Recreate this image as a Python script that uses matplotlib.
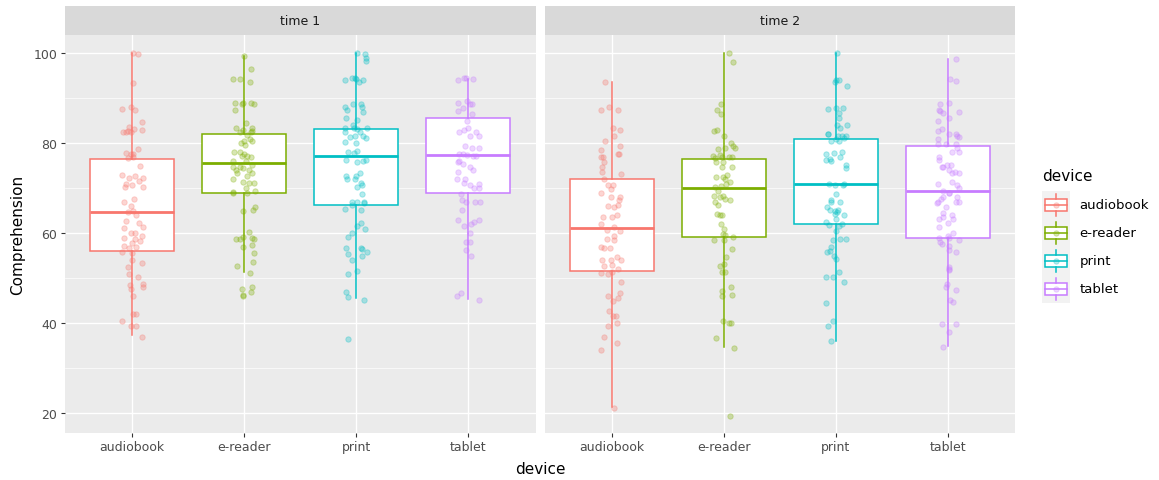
import numpy as np
import matplotlib.pyplot as plt
from matplotlib.patches import Rectangle

devices = ['audiobook', 'e-reader', 'print', 'tablet']
times = ['time 1', 'time 2']
colores = ['#F8766D', '#7CAE00', '#00BFC4', '#C77CFF']

# box stats (q1, mediana, q3, bigote bajo, bigote alto)
t1_q1 = [56.0, 69.0, 66.2, 69.0]
t1_med = [64.7, 75.5, 77.2, 77.4]
t1_q3 = [76.4, 82.1, 83.2, 85.6]
t1_lo = [37.3, 51.3, 45.6, 45.3]
t1_hi = [100.0, 99.3, 100.0, 94.3]

t2_q1 = [51.6, 59.2, 61.9, 58.9]
t2_med = [61.1, 70.1, 71.0, 69.3]
t2_q3 = [72.1, 76.4, 81.0, 79.4]
t2_lo = [21.3, 34.6, 36.1, 34.8]
t2_hi = [93.6, 100.0, 100.0, 98.7]

# jittered points: comprehension value and horizontal jitter (category units)
t1_audiobook_y = [100.0, 99.7, 93.3, 87.6, 88.1, 87.4, 84.6, 83.0, 82.4, 82.5, 83.5, 82.4, 83.1, 82.7, 78.7, 77.8, 77.6, 77.6,
                  76.6, 76.9, 74.9, 73.0, 72.2, 72.7, 72.3, 71.6, 70.9, 70.7, 70.3, 70.2, 67.6, 66.8, 66.1, 65.0, 64.6, 63.9,
                  62.7, 62.2, 61.1, 61.3, 60.1, 59.9, 58.9, 59.3, 58.6, 57.8, 57.2, 56.6, 56.8, 58.3, 55.7, 55.5, 53.3, 53.9,
                  52.4, 50.9, 50.3, 48.7, 47.9, 48.4, 47.6, 45.9, 41.9, 41.9, 40.5, 39.4, 39.3, 37.0]
t1_audiobook_dx = [0.01, 0.05, 0.01, -0.09, -0.01, 0.03, 0.09, 0.09, -0.08, -0.05, -0.03, -0.01, 0.02, -0.04, 0.05, -0.05,
                   -0.01, 0.01, -0.04, 0.01, 0.07, -0.09, -0.03, 0.03, 0.10, 0.06, -0.05, 0.00, 0.10, -0.06, 0.02, -0.07,
                   -0.01, 0.01, -0.04, 0.04, -0.05, 0.06, -0.07, 0.10, 0.03, -0.01, -0.07, 0.09, 0.03, 0.00, -0.07, -0.03,
                   0.04, 0.07, -0.09, 0.00, 0.09, 0.00, -0.04, -0.03, 0.05, 0.10, 0.10, -0.02, -0.01, 0.01, 0.01, 0.04,
                   -0.09, -0.01, 0.04, 0.09]

t1_ereader_y = [99.3, 96.4, 94.3, 94.3, 93.6, 89.0, 88.7, 88.9, 89.0, 88.7, 87.3, 84.4, 83.3, 83.0, 83.3, 82.5, 82.4, 82.7,
                81.8, 80.9, 80.4, 79.9, 79.6, 80.5, 77.9, 78.1, 77.2, 77.2, 77.0, 77.6, 76.1, 76.1, 75.1, 74.6, 74.6, 73.9,
                74.4, 74.1, 73.3, 72.7, 73.3, 71.9, 71.3, 71.1, 71.1, 70.1, 69.0, 69.4, 69.0, 69.2, 65.7, 65.2, 64.9, 60.3,
                58.7, 58.7, 59.2, 59.0, 58.7, 57.0, 57.3, 55.5, 53.6, 52.7, 51.1, 47.6, 48.1, 47.0, 46.1, 46.2]
t1_ereader_dx = [0.00, 0.06, -0.10, -0.04, 0.05, -0.08, -0.02, -0.01, 0.06, 0.09, -0.08, 0.02, -0.07, -0.01, 0.07, -0.04,
                 0.06, 0.07, 0.03, 0.05, 0.00, -0.03, 0.01, 0.07, -0.09, -0.04, -0.02, 0.03, 0.06, 0.00, -0.10, 0.02,
                 0.07, -0.10, -0.04, -0.07, -0.01, 0.04, -0.06, 0.03, 0.07, -0.10, -0.01, 0.04, 0.09, 0.02, 0.03, 0.10,
                 -0.10, -0.10, 0.10, 0.08, -0.01, 0.04, -0.07, -0.04, -0.01, 0.07, 0.09, -0.01, 0.07, 0.09, 0.08, -0.06,
                 0.05, -0.02, 0.07, 0.06, -0.01, -0.01]

t1_print_y = [100.0, 99.8, 99.0, 98.3, 94.1, 94.4, 94.4, 94.2, 93.6, 94.1, 88.7, 88.7, 87.9, 87.4, 87.9, 87.0, 85.6, 85.2,
              83.3, 82.5, 84.0, 83.4, 83.1, 82.4, 83.3, 81.6, 81.1, 81.5, 81.4, 80.3, 80.1, 77.9, 77.8, 78.3, 76.3, 75.7,
              75.9, 76.3, 73.3, 72.7, 72.6, 72.1, 72.0, 71.1, 70.7, 70.3, 68.7, 67.0, 66.2, 66.8, 66.7, 65.3, 65.2, 66.8,
              62.2, 61.6, 60.9, 60.1, 59.1, 56.6, 56.7, 56.4, 55.3, 55.7, 54.8, 54.1, 51.6, 50.8, 47.0, 45.7, 45.2, 36.4]
t1_print_dx = [0.01, 0.08, 0.09, 0.09, -0.10, -0.04, -0.01, 0.00, 0.02, 0.06, -0.03, 0.04, -0.10, -0.08, 0.05, 0.06,
               -0.09, 0.01, -0.10, -0.10, -0.03, -0.02, 0.01, 0.03, 0.10, 0.06, 0.09, -0.01, -0.06, -0.10, 0.00, -0.07,
               -0.02, 0.01, -0.09, 0.01, 0.06, 0.09, 0.03, 0.00, -0.09, -0.08, -0.01, 0.04, 0.05, 0.01, 0.05, -0.04,
               -0.04, 0.01, 0.07, -0.10, 0.04, 0.07, 0.04, 0.01, 0.08, -0.04, -0.07, -0.09, 0.04, 0.05, -0.07, 0.10,
               0.05, -0.04, 0.01, -0.07, -0.09, -0.07, 0.07, -0.07]

t1_tablet_y = [93.9, 94.4, 94.4, 94.3, 89.0, 89.4, 88.7, 88.7, 87.8, 87.1, 86.4, 85.0, 82.4, 83.0, 83.3, 82.5, 81.6, 81.5,
               79.3, 78.8, 78.9, 77.6, 77.6, 75.7, 76.1, 77.3, 77.2, 77.2, 74.6, 73.9, 75.3, 73.5, 72.1, 72.0, 71.1, 70.7,
               70.1, 70.1, 70.9, 68.7, 67.3, 67.0, 67.0, 66.8, 65.2, 63.0, 61.6, 62.0, 62.5, 63.0, 60.1, 58.1, 57.9, 56.3,
               54.8, 45.9, 46.7, 45.2]
t1_tablet_dx = [-0.09, -0.04, -0.02, 0.04, -0.09, -0.01, 0.01, 0.03, -0.05, -0.09, 0.03, -0.01, -0.08, -0.04, 0.00, 0.07,
                0.01, 0.09, -0.03, 0.03, 0.09, -0.05, -0.08, -0.09, -0.08, -0.01, 0.04, 0.07, 0.01, 0.04, -0.05, -0.09,
                -0.03, -0.10, -0.04, 0.01, 0.05, 0.09, 0.09, -0.07, -0.06, -0.02, 0.06, 0.10, -0.06, -0.09, -0.04, 0.02,
                0.05, 0.09, 0.01, -0.02, 0.01, -0.02, 0.02, -0.10, -0.07, 0.09]

t2_audiobook_y = [93.5, 87.3, 87.9, 87.3, 83.3, 83.0, 81.6, 80.5, 79.4, 78.4, 77.0, 76.8, 77.6, 77.6, 75.7, 74.6, 73.5, 73.1,
                  72.0, 70.7, 70.7, 69.8, 68.9, 68.1, 68.1, 67.4, 66.2, 65.9, 65.7, 64.1, 63.5, 63.5, 61.9, 61.3, 60.5, 60.7,
                  59.3, 58.7, 58.5, 56.8, 56.6, 56.6, 54.6, 54.1, 54.0, 53.9, 52.7, 52.1, 52.9, 51.1, 50.9, 51.3, 49.2, 46.1,
                  46.7, 45.5, 45.0, 42.7, 41.6, 41.6, 40.0, 39.3, 37.0, 35.6, 33.9, 21.1]
t2_audiobook_dx = [-0.06, -0.10, -0.03, 0.05, 0.01, 0.07, 0.02, -0.06, 0.07, -0.10, -0.08, -0.10, 0.06, 0.05, -0.07, -0.09,
                   -0.09, 0.08, -0.07, -0.04, 0.01, -0.01, -0.10, -0.01, 0.07, 0.06, 0.05, -0.04, 0.02, 0.04, -0.08, 0.00,
                   -0.10, 0.02, 0.07, -0.05, 0.02, -0.05, 0.02, -0.10, -0.07, -0.02, 0.04, -0.09, -0.01, 0.08, -0.07, 0.05,
                   0.00, -0.10, -0.04, 0.00, 0.08, -0.04, 0.07, 0.05, 0.01, -0.03, 0.01, 0.03, 0.04, -0.04, -0.07, 0.04,
                   -0.10, 0.02]

t2_ereader_y = [100.0, 98.1, 88.7, 87.3, 86.4, 82.7, 83.0, 81.6, 80.1, 79.4, 78.9, 78.7, 79.0, 77.2, 76.7, 77.4, 76.8, 77.0,
                76.8, 75.7, 75.7, 74.6, 74.6, 72.5, 72.5, 72.8, 71.9, 71.3, 70.3, 70.5, 70.9, 69.4, 68.3, 67.9, 67.6, 67.3,
                67.0, 66.3, 68.3, 64.2, 64.0, 64.1, 61.9, 60.9, 59.8, 59.6, 59.2, 58.4, 58.4, 56.4, 54.6, 52.7, 53.1, 51.3,
                51.3, 47.2, 47.9, 46.0, 46.2, 40.4, 39.9, 40.1, 36.7, 34.4, 19.4]
t2_ereader_dx = [0.04, 0.08, -0.03, -0.06, -0.03, -0.09, -0.06, 0.00, 0.06, 0.08, 0.10, -0.05, 0.01, -0.10, -0.08, -0.04,
                 -0.02, 0.04, 0.07, -0.07, -0.01, -0.02, 0.07, -0.07, -0.01, 0.03, 0.01, 0.05, -0.08, -0.03, 0.02, -0.05,
                 -0.09, -0.04, 0.01, 0.05, -0.08, -0.05, -0.01, -0.06, -0.04, -0.02, -0.03, 0.00, -0.01, 0.01, 0.08, -0.09,
                 0.00, 0.07, 0.02, -0.04, 0.00, -0.02, 0.01, -0.02, 0.06, -0.02, 0.07, -0.01, 0.04, 0.06, -0.07, 0.09,
                 0.05]

t2_print_y = [100.0, 94.1, 94.1, 93.5, 92.7, 87.6, 87.8, 87.8, 86.7, 85.6, 84.1, 84.1, 83.3, 82.1, 82.0, 81.6, 81.5, 81.6,
              81.1, 80.5, 80.4, 81.0, 77.6, 77.8, 78.1, 76.8, 76.4, 76.2, 75.9, 75.1, 74.4, 70.9, 70.7, 70.9, 70.7, 68.7,
              67.4, 66.8, 66.8, 65.7, 65.2, 65.0, 64.6, 65.1, 64.2, 63.9, 63.1, 62.5, 61.8, 62.0, 61.6, 60.5, 58.5, 58.7,
              58.7, 57.0, 55.7, 55.9, 55.0, 54.2, 51.4, 50.3, 50.3, 49.2, 44.4, 40.5, 39.3, 36.1]
t2_print_dx = [0.01, 0.00, 0.03, -0.01, 0.10, -0.07, 0.00, 0.06, 0.03, 0.03, 0.01, 0.10, 0.04, -0.07, -0.07, 0.02,
               0.05, 0.09, 0.07, -0.04, 0.03, 0.00, -0.09, -0.02, 0.05, 0.04, -0.05, -0.09, -0.04, 0.09, 0.09, -0.06,
               -0.01, 0.07, 0.06, 0.00, -0.04, -0.04, 0.04, -0.08, -0.05, -0.01, 0.01, 0.02, -0.01, 0.07, 0.00, -0.09,
               -0.06, 0.05, 0.03, 0.00, -0.03, 0.04, 0.09, -0.04, -0.08, -0.05, -0.02, 0.00, 0.03, -0.09, -0.03, 0.07,
               -0.09, -0.03, -0.07, -0.04]

t2_tablet_y = [98.7, 94.3, 93.8, 88.7, 88.9, 87.4, 87.2, 86.7, 87.0, 85.6, 84.9, 82.7, 83.1, 82.1, 82.1, 81.6, 81.4, 80.9,
               79.8, 79.8, 79.8, 79.0, 78.1, 77.9, 76.8, 76.3, 74.6, 75.1, 75.1, 74.6, 74.1, 73.3, 73.3, 73.5, 70.8, 71.4,
               70.7, 70.1, 69.4, 69.0, 68.9, 66.8, 67.6, 68.1, 66.7, 67.0, 66.8, 67.9, 65.7, 64.4, 63.5, 64.1, 63.1, 63.1,
               62.2, 61.4, 60.0, 58.8, 59.3, 58.8, 57.9, 57.6, 58.4, 57.1, 56.3, 55.7, 52.5, 51.7, 52.1, 48.7, 47.9, 47.4,
               45.2, 44.6, 39.8, 39.8, 37.9, 34.6]
t2_tablet_dx = [0.07, 0.02, 0.07, -0.07, 0.01, -0.08, -0.07, -0.04, 0.10, 0.01, -0.09, -0.09, -0.05, 0.01, 0.07, 0.08,
                0.10, -0.09, -0.09, -0.02, 0.07, 0.08, 0.04, 0.10, -0.08, -0.08, -0.04, -0.01, 0.03, -0.05, 0.01, 0.04,
                0.10, 0.06, -0.09, 0.04, 0.08, 0.10, -0.04, 0.01, 0.01, -0.09, -0.06, -0.04, -0.10, 0.07, 0.10, 0.08,
                -0.02, -0.04, -0.04, 0.04, 0.05, -0.08, 0.00, -0.08, 0.05, -0.08, 0.00, 0.01, -0.07, -0.05, 0.10, 0.01,
                0.01, 0.07, 0.01, 0.01, 0.01, -0.01, -0.02, 0.07, 0.02, 0.05, -0.05, 0.07, 0.01, -0.04]

puntos = [
    [(t1_audiobook_y, t1_audiobook_dx), (t1_ereader_y, t1_ereader_dx), (t1_print_y, t1_print_dx), (t1_tablet_y, t1_tablet_dx)],
    [(t2_audiobook_y, t2_audiobook_dx), (t2_ereader_y, t2_ereader_dx), (t2_print_y, t2_print_dx), (t2_tablet_y, t2_tablet_dx)],
]
cajas = [(t1_q1, t1_med, t1_q3, t1_lo, t1_hi), (t2_q1, t2_med, t2_q3, t2_lo, t2_hi)]

W, H = 1159, 481
fig = plt.figure(figsize=(W / 100, H / 100), dpi=100)


def px_axes(x0, y0, x1, y1):
    # axes placed in picture pixels (y from the top)
    return fig.add_axes([x0 / W, 1 - y1 / H, (x1 - x0) / W, (y1 - y0) / H])


# overlay for titles and legend
ov = px_axes(0, 0, W, H)
ov.set_xlim(0, W)
ov.set_ylim(H, 0)
ov.axis('off')

paneles = [(64.7, 535.7), (545.0, 1015.0)]
for k, (x0, x1) in enumerate(paneles):
    ax = px_axes(x0, 35.7, x1, 434)
    ax.set_facecolor('#EBEBEB')
    for s in ax.spines.values():
        s.set_visible(False)
    q1, med, q3, lo, hi = cajas[k]
    for i in range(4):
        c = colores[i]
        st = dict(med=med[i], q1=q1[i], q3=q3[i], whislo=lo[i], whishi=hi[i], fliers=[])
        ax.bxp([st], positions=[i + 1], widths=0.75, patch_artist=True, showcaps=False, showfliers=False,
               manage_ticks=False,
               boxprops=dict(facecolor='white', edgecolor=c, linewidth=1.1),
               whiskerprops=dict(color=c, linewidth=1.1),
               medianprops=dict(color=c, linewidth=2.0, solid_capstyle='butt'))
        y, dx = puntos[k][i]
        n = min(len(y), len(dx))
        ax.scatter(i + 1 + np.array(dx[:n]), np.array(y[:n]), s=15, color=c, alpha=0.3,
                   linewidths=0.7, edgecolors=c, zorder=3)
    ax.set_xlim(0.4, 4.6)
    ax.set_ylim(15.56, 104.07)
    ax.set_xticks([1, 2, 3, 4])
    ax.set_xticklabels(devices)
    ax.set_yticks([20, 40, 60, 80, 100])
    ax.set_yticks([30, 50, 70, 90], minor=True)
    ax.set_axisbelow(True)
    ax.grid(which='major', color='white', linewidth=1.0)
    ax.grid(which='minor', axis='y', color='white', linewidth=0.5)
    ax.tick_params(which='major', length=2.7, width=0.8, color='#333333', labelsize=9,
                   labelcolor='#4D4D4D', pad=2.5)
    ax.tick_params(which='minor', length=0)
    if k == 1:
        ax.tick_params(axis='y', left=False, labelleft=False)

    # strip
    st_ax = px_axes(x0, 7.3, x1, 35.7)
    st_ax.set_facecolor('#D9D9D9')
    st_ax.set_xticks([])
    st_ax.set_yticks([])
    for s in st_ax.spines.values():
        s.set_visible(False)
    st_ax.text(0.5, 0.5, times[k], transform=st_ax.transAxes, ha='center', va='center',
               fontsize=9, color='#1A1A1A')

ov.text(540, 470, 'device', ha='center', va='center', fontsize=11)
ov.text(18, 235, 'Comprehension', ha='center', va='center', rotation=90, fontsize=11)

# legend drawn by hand, ggplot style
ov.text(1041.7, 177, 'device', ha='left', va='center', fontsize=11)
for i, d in enumerate(devices):
    c = colores[i]
    y0 = 191.7 + 28 * i
    ov.add_patch(Rectangle((1041.7, y0), 28.3, 28, facecolor='#F2F2F2', edgecolor='none'))
    xc = 1041.7 + 14.15
    ov.plot([xc, xc], [y0 + 3.3, y0 + 8.3], color=c, lw=1.1)
    ov.plot([xc, xc], [y0 + 20.3, y0 + 25], color=c, lw=1.1)
    ov.add_patch(Rectangle((1044.5, y0 + 8.3), 22.6, 12, facecolor='white', edgecolor=c, lw=1.1))
    ov.plot([1044.5, 1067.1], [y0 + 14.3, y0 + 14.3], color=c, lw=1.1)
    ov.scatter([xc], [y0 + 14.3], s=15, color=c, alpha=0.3, linewidths=0.7, edgecolors=c, zorder=3)
    ov.text(1079.3, y0 + 14.3, d, ha='left', va='center', fontsize=9.5)

plt.savefig('out.png', dpi=100)
